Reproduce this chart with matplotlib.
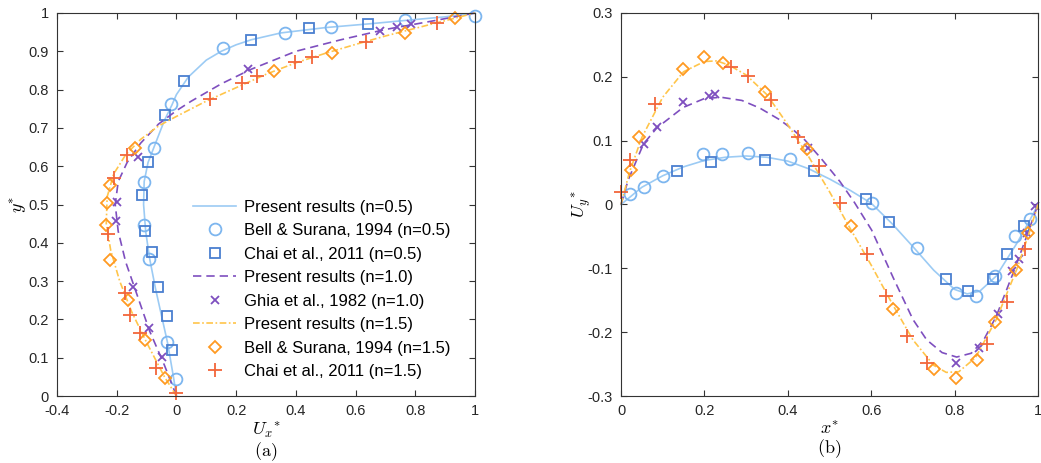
import numpy as np
import matplotlib
matplotlib.use("Agg")
import matplotlib.pyplot as plt
from matplotlib.ticker import FuncFormatter

plt.rcParams['font.family'] = ['Liberation Sans', 'DejaVu Sans']
plt.rcParams['mathtext.fontset'] = 'cm'

# ---- (a) horizontal velocity along vertical centreline ----
# present results
a05_x = [0, -0.01, -0.03, -0.05, -0.07, -0.09, -0.103, -0.11, -0.108, -0.095, -0.07, -0.04, -0.015, 0.0, 0.04, 0.1, 0.15, 0.2, 0.25, 0.35, 0.5, 0.65, 0.8, 0.9, 1.0]
a05_y = [0, 0.05, 0.14, 0.21, 0.28, 0.36, 0.43, 0.5, 0.56, 0.61, 0.66, 0.72, 0.76, 0.787, 0.833, 0.877, 0.9, 0.917, 0.93, 0.948, 0.962, 0.972, 0.983, 0.99, 1.0]
a10_x = [0, -0.04, -0.09, -0.13, -0.17, -0.195, -0.205, -0.195, -0.165, -0.12, -0.06, 0.0, 0.05, 0.15, 0.25, 0.4, 0.55, 0.7, 0.85, 1.0]
a10_y = [0, 0.08, 0.17, 0.26, 0.35, 0.43, 0.5, 0.56, 0.61, 0.66, 0.71, 0.745, 0.77, 0.815, 0.853, 0.9, 0.93, 0.957, 0.978, 1.0]
a15_x = [0, -0.04, -0.1, -0.15, -0.19, -0.22, -0.235, -0.232, -0.21, -0.17, -0.12, -0.06, 0.0, 0.1, 0.2, 0.3, 0.4, 0.5, 0.6, 0.7, 0.8, 0.9, 1.0]
a15_y = [0, 0.05, 0.14, 0.22, 0.3, 0.38, 0.45, 0.52, 0.58, 0.63, 0.67, 0.705, 0.73, 0.77, 0.805, 0.84, 0.87, 0.895, 0.918, 0.94, 0.96, 0.98, 1.0]

# reference data
bell05_x = [-0.003, -0.031, -0.093, -0.109, -0.11, -0.075, -0.017, 0.156, 0.362, 0.518, 0.765, 1.0]
bell05_y = [0.044, 0.142, 0.357, 0.446, 0.56, 0.647, 0.762, 0.908, 0.949, 0.963, 0.983, 0.993]
chai05_x = [-0.014, -0.033, -0.061, -0.081, -0.106, -0.115, -0.095, -0.037, 0.025, 0.25, 0.443, 0.642]
chai05_y = [0.12, 0.209, 0.284, 0.377, 0.431, 0.525, 0.612, 0.734, 0.823, 0.93, 0.96, 0.971]
ghia10_x = [-0.048, -0.093, -0.145, -0.204, -0.199, -0.13, 0.239, 0.681, 0.739, 0.786]
ghia10_y = [0.103, 0.178, 0.285, 0.458, 0.507, 0.625, 0.853, 0.953, 0.964, 0.971]
bell15_x = [-0.037, -0.106, -0.162, -0.221, -0.236, -0.232, -0.223, -0.14, 0.328, 0.521, 0.764, 0.934]
bell15_y = [0.046, 0.146, 0.251, 0.355, 0.446, 0.503, 0.551, 0.647, 0.849, 0.896, 0.949, 0.986]
chai15_x = [0.0, -0.067, -0.123, -0.154, -0.173, -0.229, -0.208, -0.165, 0.112, 0.218, 0.271, 0.396, 0.454, 0.635, 0.873]
chai15_y = [0.009, 0.072, 0.165, 0.211, 0.268, 0.423, 0.568, 0.629, 0.775, 0.816, 0.836, 0.873, 0.884, 0.925, 0.975]

# ---- (b) vertical velocity along horizontal centreline ----
b05_x = [0, 0.05, 0.1, 0.15, 0.2, 0.25, 0.3, 0.35, 0.4, 0.45, 0.5, 0.55, 0.6, 0.65, 0.7, 0.75, 0.8, 0.83, 0.86, 0.9, 0.95, 0.98, 1.0]
b05_y = [0, 0.027, 0.045, 0.059, 0.069, 0.074, 0.076, 0.074, 0.068, 0.056, 0.04, 0.022, 0.002, -0.03, -0.066, -0.103, -0.133, -0.14, -0.136, -0.112, -0.06, -0.025, 0]
b10_x = [0, 0.017, 0.054, 0.086, 0.149, 0.2, 0.24, 0.29, 0.333, 0.38, 0.413, 0.441, 0.48, 0.525, 0.56, 0.601, 0.653, 0.7, 0.733, 0.77, 0.805, 0.84, 0.87, 0.9, 0.94, 0.97, 1.0]
b10_y = [0, 0.038, 0.095, 0.12, 0.152, 0.166, 0.168, 0.163, 0.151, 0.133, 0.117, 0.101, 0.072, 0.036, 0.003, -0.04, -0.115, -0.18, -0.212, -0.232, -0.239, -0.233, -0.212, -0.175, -0.108, -0.055, 0]
b15_x = [0, 0.02, 0.05, 0.1, 0.15, 0.2, 0.23, 0.26, 0.3, 0.35, 0.4, 0.45, 0.5, 0.55, 0.6, 0.65, 0.7, 0.75, 0.78, 0.81, 0.85, 0.9, 0.95, 0.98, 1.0]
b15_y = [0, 0.05, 0.105, 0.168, 0.208, 0.224, 0.225, 0.218, 0.203, 0.172, 0.125, 0.075, 0.02, -0.038, -0.095, -0.155, -0.212, -0.252, -0.263, -0.262, -0.24, -0.18, -0.1, -0.042, 0]

bellb05_x = [0.022, 0.054, 0.1, 0.197, 0.243, 0.304, 0.405, 0.603, 0.709, 0.803, 0.851, 0.897, 0.945, 0.981]
bellb05_y = [0.017, 0.027, 0.045, 0.079, 0.079, 0.081, 0.071, 0.002, -0.068, -0.139, -0.143, -0.112, -0.049, -0.022]
chaib05_x = [0.135, 0.215, 0.345, 0.463, 0.588, 0.643, 0.779, 0.833, 0.891, 0.925, 0.966]
chaib05_y = [0.0525, 0.067, 0.07, 0.053, 0.008, -0.027, -0.117, -0.135, -0.116, -0.077, -0.034]
ghiab10_x = [0.054, 0.086, 0.149, 0.212, 0.225, 0.449, 0.803, 0.859, 0.905, 0.937, 0.955, 0.973, 0.993]
ghiab10_y = [0.095, 0.122, 0.16, 0.17, 0.173, 0.088, -0.248, -0.225, -0.171, -0.104, -0.086, -0.044, -0.003]
bellb15_x = [0.024, 0.044, 0.149, 0.199, 0.245, 0.345, 0.447, 0.551, 0.653, 0.751, 0.803, 0.854, 0.898, 0.947, 0.977]
bellb15_y = [0.054, 0.106, 0.212, 0.231, 0.221, 0.177, 0.087, -0.034, -0.163, -0.257, -0.272, -0.244, -0.184, -0.103, -0.044]
chaib15_x = [0.0, 0.022, 0.082, 0.263, 0.305, 0.359, 0.424, 0.476, 0.525, 0.591, 0.636, 0.687, 0.735, 0.877, 0.925, 0.969]
chaib15_y = [0.019, 0.069, 0.158, 0.215, 0.201, 0.164, 0.106, 0.06, 0.002, -0.078, -0.144, -0.206, -0.249, -0.218, -0.152, -0.07]

c_line05 = '#9ccbf4'
c_circ = '#7db6ef'
c_sq = '#4a7fd0'
c_purple = '#7e4fbf'
c_line15 = '#ffc54a'
c_dia = '#ff9a22'
c_plus = '#f2663a'

fig = plt.figure(figsize=(10.41, 4.63), dpi=100)
ax1 = fig.add_axes([57/1041, 67/463, 418/1041, 383/463])
ax2 = fig.add_axes([621/1041, 67/463, 417/1041, 383/463])

lw = 1.2
mew = 1.3
sty = dict(
    o=dict(marker='o', ls='none', mfc='none', mec=c_circ, ms=8.5, mew=mew),
    s=dict(marker='s', ls='none', mfc='none', mec=c_sq, ms=7.5, mew=mew),
    x=dict(marker='x', ls='none', color=c_purple, ms=5.5, mew=mew),
    d=dict(marker='D', ls='none', mfc='none', mec=c_dia, ms=6.3, mew=mew),
    p=dict(marker='+', ls='none', color=c_plus, ms=9.5, mew=mew),
)

ax1.plot(a05_x, a05_y, '-', color=c_line05, lw=lw, label='Present results (n=0.5)')
ax1.plot(bell05_x, bell05_y, label='Bell & Surana, 1994 (n=0.5)', **sty['o'])
ax1.plot(chai05_x, chai05_y, label='Chai et al., 2011 (n=0.5)', **sty['s'])
ax1.plot(a10_x, a10_y, '--', color=c_purple, lw=lw, dashes=(5, 3), label='Present results (n=1.0)')
ax1.plot(ghia10_x, ghia10_y, label='Ghia et al., 1982 (n=1.0)', **sty['x'])
ax1.plot(a15_x, a15_y, '-.', color=c_line15, lw=lw, dashes=(4, 1.5, 1, 1.5), label='Present results (n=1.5)')
ax1.plot(bell15_x, bell15_y, label='Bell & Surana, 1994 (n=1.5)', **sty['d'])
ax1.plot(chai15_x, chai15_y, label='Chai et al., 2011 (n=1.5)', **sty['p'])

ax2.plot(b05_x, b05_y, '-', color=c_line05, lw=lw)
ax2.plot(bellb05_x, bellb05_y, **sty['o'])
ax2.plot(chaib05_x, chaib05_y, **sty['s'])
ax2.plot(b10_x, b10_y, '--', color=c_purple, lw=lw, dashes=(5, 3))
ax2.plot(ghiab10_x, ghiab10_y, **sty['x'])
ax2.plot(b15_x, b15_y, '-.', color=c_line15, lw=lw, dashes=(4, 1.5, 1, 1.5))
ax2.plot(bellb15_x, bellb15_y, **sty['d'])
ax2.plot(chaib15_x, chaib15_y, **sty['p'])

fmt = FuncFormatter(lambda v, p: '%g' % round(v, 6))
for ax in (ax1, ax2):
    ax.tick_params(direction='in', top=True, right=True, labelsize=10.5, length=4,
                   color='#333333', labelcolor='#262626', pad=6)
    for s in ax.spines.values():
        s.set_color('#333333')
        s.set_linewidth(0.8)
    ax.xaxis.set_major_formatter(fmt)
    ax.yaxis.set_major_formatter(fmt)
    for ln in ax.lines:
        ln.set_clip_on(False)

ax1.set_xlim(-0.4, 1)
ax1.set_ylim(0, 1)
ax1.set_xticks(np.arange(-0.4, 1.01, 0.2))
ax1.set_yticks(np.arange(0, 1.01, 0.1))
ax1.set_xlabel('$U_x{}^{*}$\n$\\mathrm{(a)}$', fontsize=13, labelpad=2, linespacing=0.95)
ax1.set_ylabel('$y^{*}$', fontsize=13, labelpad=-1)

ax2.set_xlim(0, 1)
ax2.set_ylim(-0.3, 0.3)
ax2.set_xticks(np.arange(0, 1.01, 0.2))
ax2.set_yticks(np.arange(-0.3, 0.31, 0.1))
ax2.set_xlabel('$x^{*}$\n$\\mathrm{(b)}$', fontsize=13, labelpad=2, linespacing=0.95)
ax2.set_ylabel('$U_y{}^{*}$', fontsize=13, labelpad=-5)

ax1.legend(loc='upper left', bbox_to_anchor=(0.325, 0.513), frameon=False, fontsize=12,
           handlelength=2.6, handletextpad=0.45, labelspacing=0.51, borderpad=0, borderaxespad=0)

fig.savefig('out.png', dpi=100)
